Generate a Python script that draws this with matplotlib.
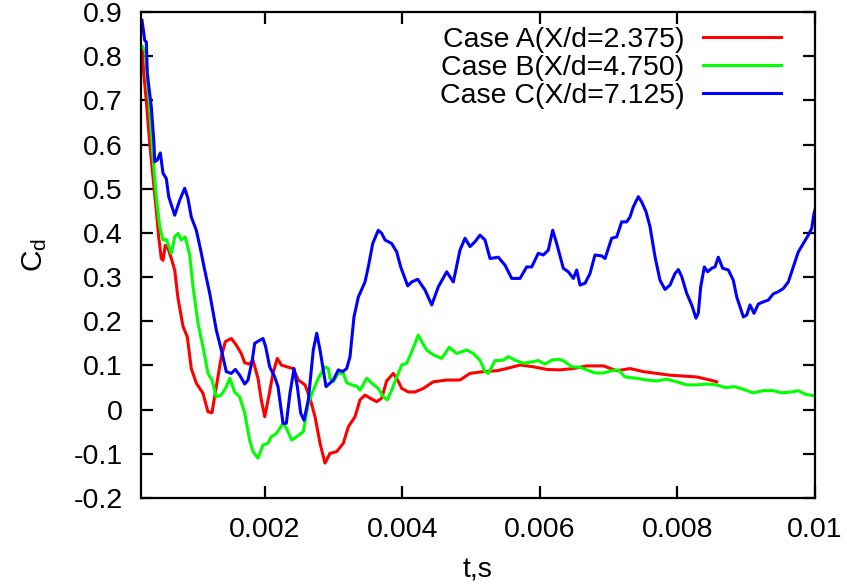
import numpy as np
import matplotlib
matplotlib.use("Agg")
import matplotlib.pyplot as plt
from matplotlib.ticker import FixedLocator, FuncFormatter

plt.rcParams['font.family'] = ['Liberation Sans', 'DejaVu Sans']
plt.rcParams['mathtext.fontset'] = 'custom'
plt.rcParams['mathtext.rm'] = 'Liberation Sans'
plt.rcParams['mathtext.it'] = 'Liberation Sans'

# Drag coefficient histories, time in milliseconds
tA_ms = [0.215, 0.244, 0.277, 0.327, 0.374, 0.422, 0.457, 0.495, 0.520, 0.553,
         0.593, 0.641, 0.690, 0.738, 0.811, 0.873, 0.931, 1.004, 1.101, 1.174,
         1.232, 1.295, 1.368, 1.426, 1.513, 1.586, 1.658, 1.708, 1.780, 1.828,
         1.901, 1.949, 1.999, 2.057, 2.119, 2.182, 2.240, 2.319, 2.414, 2.487,
         2.585, 2.657, 2.730, 2.803, 2.875, 2.948, 3.046, 3.142, 3.214, 3.312,
         3.384, 3.457, 3.530, 3.627, 3.700, 3.772, 3.868, 3.918, 3.991, 4.087,
         4.184, 4.305, 4.450, 4.645, 4.838, 4.984, 5.177, 5.372, 5.517, 5.711,
         5.904, 6.099, 6.292, 6.486, 6.681, 6.922, 7.117, 7.310, 7.504, 7.698,
         7.892, 8.085, 8.280, 8.474, 8.571]
cdA = [0.821, 0.753, 0.700, 0.602, 0.527, 0.452, 0.391, 0.342, 0.338, 0.372,
       0.365, 0.342, 0.316, 0.252, 0.188, 0.165, 0.093, 0.060, 0.037, -0.005,
       -0.007, 0.052, 0.120, 0.154, 0.161, 0.146, 0.127, 0.106, 0.103, 0.112,
       0.071, 0.022, -0.016, 0.029, 0.082, 0.116, 0.101, 0.097, 0.093, 0.067,
       0.056, 0.026, -0.016, -0.076, -0.121, -0.099, -0.095, -0.076, -0.039, -0.016,
       0.022, 0.033, 0.026, 0.018, 0.026, 0.065, 0.082, 0.071, 0.048, 0.040,
       0.040, 0.048, 0.063, 0.067, 0.067, 0.082, 0.086, 0.088, 0.093, 0.101,
       0.097, 0.091, 0.090, 0.093, 0.099, 0.099, 0.088, 0.093, 0.086, 0.082,
       0.078, 0.076, 0.074, 0.067, 0.063]

tB_ms = [0.215, 0.263, 0.327, 0.374, 0.422, 0.472, 0.520, 0.568, 0.617, 0.641,
         0.690, 0.738, 0.786, 0.844, 0.883, 0.908, 0.956, 1.029, 1.101, 1.174,
         1.232, 1.295, 1.368, 1.440, 1.490, 1.562, 1.635, 1.708, 1.780, 1.828,
         1.901, 1.974, 2.047, 2.095, 2.167, 2.265, 2.313, 2.391, 2.464, 2.560,
         2.633, 2.705, 2.778, 2.875, 2.923, 2.948, 2.996, 3.069, 3.142, 3.191,
         3.264, 3.336, 3.384, 3.482, 3.554, 3.650, 3.723, 3.781, 3.845, 3.918,
         3.991, 4.063, 4.136, 4.232, 4.281, 4.354, 4.450, 4.572, 4.683, 4.790,
         4.936, 5.032, 5.129, 5.202, 5.250, 5.347, 5.468, 5.541, 5.638, 5.759,
         5.881, 5.977, 6.074, 6.172, 6.268, 6.340, 6.462, 6.583, 6.681, 6.801,
         6.922, 7.044, 7.140, 7.237, 7.408, 7.553, 7.698, 7.844, 7.989, 8.135,
         8.280, 8.425, 8.571, 8.691, 8.837, 8.957, 9.103, 9.248, 9.394, 9.516,
         9.661, 9.757, 9.855, 10.0]
cdB = [0.821, 0.814, 0.678, 0.572, 0.482, 0.414, 0.384, 0.385, 0.365, 0.354,
       0.391, 0.399, 0.384, 0.391, 0.365, 0.350, 0.278, 0.195, 0.142, 0.082,
       0.067, 0.029, 0.033, 0.052, 0.071, 0.040, 0.029, -0.008, -0.069, -0.095,
       -0.110, -0.080, -0.076, -0.061, -0.054, -0.031, -0.042, -0.069, -0.061, -0.050,
       0.014, 0.044, 0.071, 0.097, 0.093, 0.071, 0.063, 0.082, 0.082, 0.061,
       0.056, 0.053, 0.044, 0.071, 0.060, 0.048, 0.029, 0.022, 0.044, 0.074,
       0.101, 0.105, 0.131, 0.169, 0.154, 0.135, 0.124, 0.116, 0.141, 0.127,
       0.135, 0.127, 0.112, 0.086, 0.082, 0.111, 0.112, 0.120, 0.112, 0.105,
       0.108, 0.111, 0.103, 0.112, 0.114, 0.111, 0.097, 0.096, 0.090, 0.083,
       0.083, 0.088, 0.090, 0.074, 0.071, 0.067, 0.065, 0.069, 0.063, 0.056,
       0.056, 0.058, 0.056, 0.050, 0.052, 0.046, 0.038, 0.043, 0.043, 0.038,
       0.040, 0.043, 0.035, 0.031]

tC_ms = [0.215, 0.254, 0.277, 0.292, 0.350, 0.389, 0.399, 0.437, 0.481, 0.520,
         0.568, 0.603, 0.690, 0.763, 0.835, 0.883, 0.931, 1.004, 1.068, 1.126,
         1.199, 1.295, 1.368, 1.440, 1.513, 1.571, 1.635, 1.708, 1.756, 1.818,
         1.853, 1.926, 1.974, 2.013, 2.071, 2.144, 2.192, 2.265, 2.313, 2.366,
         2.425, 2.473, 2.522, 2.570, 2.633, 2.705, 2.755, 2.803, 2.890, 2.948,
         2.996, 3.069, 3.133, 3.191, 3.239, 3.297, 3.360, 3.457, 3.505, 3.569,
         3.650, 3.700, 3.748, 3.845, 3.918, 3.976, 4.078, 4.136, 4.223, 4.281,
         4.329, 4.427, 4.523, 4.645, 4.741, 4.838, 4.911, 4.984, 5.056, 5.129,
         5.202, 5.275, 5.395, 5.493, 5.590, 5.711, 5.808, 5.881, 5.977, 6.050,
         6.122, 6.186, 6.244, 6.340, 6.413, 6.486, 6.535, 6.583, 6.656, 6.728,
         6.801, 6.899, 6.947, 7.044, 7.117, 7.189, 7.262, 7.310, 7.358, 7.431,
         7.480, 7.543, 7.601, 7.674, 7.746, 7.819, 7.892, 7.964, 8.013, 8.062,
         8.135, 8.207, 8.270, 8.303, 8.338, 8.391, 8.440, 8.498, 8.546, 8.594,
         8.658, 8.740, 8.812, 8.862, 8.958, 9.007, 9.055, 9.113, 9.176, 9.248,
         9.321, 9.394, 9.466, 9.539, 9.612, 9.685, 9.757, 9.830, 9.903, 9.952,
         9.985, 10.0]
cdC = [0.881, 0.836, 0.832, 0.761, 0.685, 0.602, 0.561, 0.565, 0.581, 0.535,
       0.523, 0.482, 0.440, 0.474, 0.501, 0.478, 0.436, 0.406, 0.361, 0.316,
       0.263, 0.180, 0.135, 0.086, 0.082, 0.091, 0.078, 0.058, 0.067, 0.112,
       0.150, 0.157, 0.161, 0.142, 0.097, 0.074, 0.052, -0.031, -0.031, 0.037,
       0.093, 0.052, -0.008, -0.024, 0.022, 0.135, 0.173, 0.135, 0.052, 0.060,
       0.067, 0.090, 0.086, 0.093, 0.120, 0.210, 0.255, 0.289, 0.323, 0.376,
       0.406, 0.399, 0.384, 0.376, 0.357, 0.323, 0.280, 0.289, 0.295, 0.282,
       0.271, 0.237, 0.278, 0.312, 0.289, 0.361, 0.388, 0.369, 0.380, 0.395,
       0.384, 0.342, 0.345, 0.327, 0.297, 0.297, 0.323, 0.323, 0.354, 0.350,
       0.361, 0.406, 0.376, 0.320, 0.312, 0.297, 0.316, 0.282, 0.286, 0.308,
       0.350, 0.348, 0.342, 0.388, 0.391, 0.425, 0.425, 0.436, 0.459, 0.482,
       0.470, 0.448, 0.414, 0.346, 0.293, 0.272, 0.282, 0.308, 0.317, 0.301,
       0.263, 0.237, 0.207, 0.218, 0.278, 0.323, 0.312, 0.320, 0.323, 0.345,
       0.320, 0.316, 0.293, 0.255, 0.210, 0.214, 0.237, 0.218, 0.239, 0.244,
       0.248, 0.262, 0.267, 0.274, 0.289, 0.323, 0.357, 0.376, 0.395, 0.410,
       0.444, 0.452]

labels = ['Case A(X/d=2.375)', 'Case B(X/d=4.750)', 'Case C(X/d=7.125)']
colors = ['#ff0000', '#00ff00', '#0000ff']

x_ticks = [0.002, 0.004, 0.006, 0.008, 0.01]
y_ticks = [-0.2, -0.1, 0.0, 0.1, 0.2, 0.3, 0.4, 0.5, 0.6, 0.7, 0.8, 0.9]

FS = 20.5
LW = 2.2

fig = plt.figure(figsize=(8.47, 5.87), dpi=100)
ax = fig.add_axes([141 / 847, 1 - 498 / 587, 674 / 847, 486 / 587])

series = [(tA_ms, cdA), (tB_ms, cdB), (tC_ms, cdC)]
for (t_ms, cd), lab, col in zip(series, labels, colors):
    ax.plot(np.asarray(t_ms) * 1e-3, cd, color=col, lw=LW, label=lab,
            solid_joinstyle='round')

ax.set_xlim(0.0002, 0.01)
ax.set_ylim(-0.2, 0.9)
ax.xaxis.set_major_locator(FixedLocator(x_ticks))
ax.yaxis.set_major_locator(FixedLocator(y_ticks))
ax.xaxis.set_major_formatter(FuncFormatter(lambda v, p: '%g' % round(v, 6)))
ax.yaxis.set_major_formatter(FuncFormatter(lambda v, p: '%g' % round(v, 6)))

for sp in ax.spines.values():
    sp.set_linewidth(1.6)
ax.tick_params(direction='in', length=8.5, width=1.6, top=True, right=True,
               labelsize=FS, colors='black')
ax.tick_params(axis='x', pad=14)
ax.tick_params(axis='y', pad=13)

ax.set_xlabel('t,s', fontsize=FS, labelpad=10)
ax.set_ylabel(r'$\mathregular{C_d}$', fontsize=FS + 1, labelpad=18)

leg = ax.legend(loc='upper right', bbox_to_anchor=(0.9496, 0.970),
                frameon=False, markerfirst=False, fontsize=FS,
                handlelength=2.75, handletextpad=0.65, labelspacing=0.07,
                borderpad=0, borderaxespad=0)
for h in leg.get_lines():
    h.set_linewidth(LW)

fig.savefig('out.png', dpi=100)
